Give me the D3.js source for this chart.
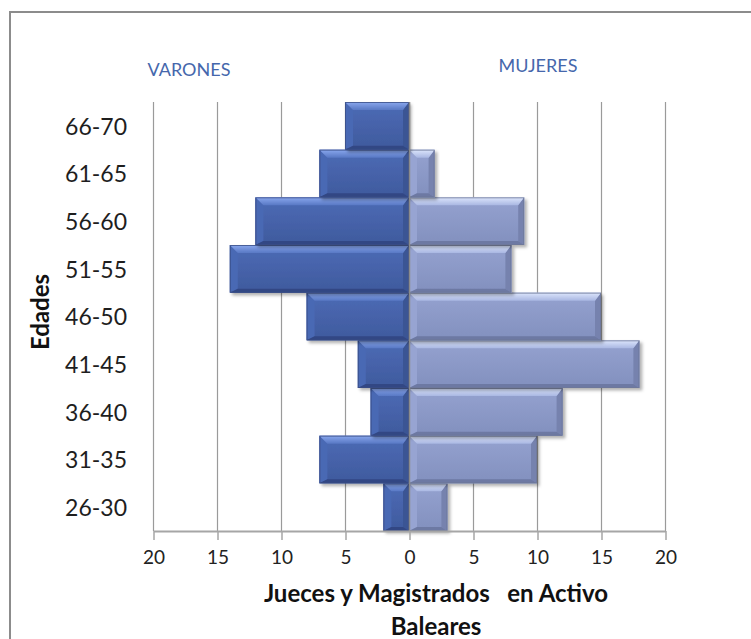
<!DOCTYPE html>
<html>
<head>
<meta charset="utf-8">
<script src="https://cdn.jsdelivr.net/npm/d3@7"></script>
<style>
  html, body { margin: 0; padding: 0; background: #fff; }
  svg { display: block; }
  text { font-family: Lato, "Open Sans", "Liberation Sans", sans-serif; }
</style>
</head>
<body>
<svg id="chart" width="751" height="639"></svg>
<script>
// ---- data ----
const categories = ["26-30", "31-35", "36-40", "41-45", "46-50", "51-55", "56-60", "61-65", "66-70"];
const varones    = [2, 7, 3, 4, 8, 14, 12, 7, 5];
const mujeres    = [3, 10, 12, 18, 15, 8, 9, 2, 0];
const tickValues = [-20, -15, -10, -5, 0, 5, 10, 15, 20];
const tickLabels = ["20", "15", "10", "5", "0", "5", "10", "15", "20"];
const seriesNames = ["VARONES", "MUJERES"];
const axisTitle = ["Jueces y Magistrados   en Activo", "Baleares"];
const yTitle = "Edades";

// ---- layout ----
const svg = d3.select("#chart");
const plot = { left: 153, right: 665, top: 102, bottom: 531 };

const x = d3.scaleLinear().domain([-20, 20]).range([plot.left, plot.right]);
const y = d3.scaleBand().domain(categories.slice().reverse()).range([plot.top, plot.bottom]).padding(0);

// frame (only top and left edges visible)
svg.append("rect").attr("x", 10).attr("y", 12).attr("width", 760).attr("height", 660)
  .attr("fill", "none").attr("stroke", "#8c8c8c").attr("stroke-width", 2);

const defs = svg.append("defs");
const f = defs.append("filter").attr("id", "shadow").attr("x", "-10%").attr("y", "-10%").attr("width", "130%").attr("height", "140%");
f.append("feDropShadow").attr("dx", 2.5).attr("dy", 2.5).attr("stdDeviation", 1.8)
  .attr("flood-color", "#000").attr("flood-opacity", 0.3);

function grad(id, c1, c2) {
  const g = defs.append("linearGradient").attr("id", id).attr("x1", 0).attr("y1", 0).attr("x2", 0).attr("y2", 1);
  g.append("stop").attr("offset", "0%").attr("stop-color", c1);
  g.append("stop").attr("offset", "100%").attr("stop-color", c2);
}
const styles = {
  m: { face: ["#4d6bb6", "#3f5a9d"], top: ["#8aa8ee", "#5878c4"], left: "#4a69b4", right: "#3b5494", bottom: "#314784", stroke: "#3a4c85" },
  f: { face: ["#95a2d0", "#8290be"], top: ["#dde6fc", "#a9b7e2"], left: "#97a4d2", right: "#7682ae", bottom: "#6d79a3", stroke: "#6e7899" }
};
Object.entries(styles).forEach(([k, s]) => {
  grad("face-" + k, s.face[0], s.face[1]);
  grad("top-" + k, s.top[0], s.top[1]);
});

// gridlines
const grid = svg.append("g");
grid.selectAll("line").data(tickValues).join("line")
  .attr("x1", d => x(d) + 0.5).attr("x2", d => x(d) + 0.5)
  .attr("y1", plot.top).attr("y2", plot.bottom)
  .attr("stroke", "#9a9a9a").attr("stroke-width", 1.2);

// bars
const rows = categories.map((c, i) => ({ cat: c, m: varones[i], f: mujeres[i] }));
const bars = [];
rows.forEach(r => {
  if (r.m > 0) bars.push({ k: "m", x0: x(-r.m), x1: x(0), y0: y(r.cat), y1: y(r.cat) + y.bandwidth() });
  if (r.f > 0) bars.push({ k: "f", x0: x(0), x1: x(r.f), y0: y(r.cat), y1: y(r.cat) + y.bandwidth() });
});
const barG = svg.append("g");
bars.forEach(b => {
  const s = styles[b.k];
  const g = barG.append("g").attr("filter", "url(#shadow)");
  const w = b.x1 - b.x0;
  const bt = 8, bb = 4;
  const bl = Math.min(8, w / 2), br = Math.min(6, w / 2);
  const { x0, x1, y0, y1 } = b;
  g.append("rect").attr("x", x0).attr("y", y0).attr("width", w).attr("height", y1 - y0)
    .attr("fill", `url(#face-${b.k})`);
  const poly = (pts, fill) => g.append("polygon").attr("points", pts.map(p => p.join(",")).join(" ")).attr("fill", fill);
  poly([[x0, y0], [x0 + bl, y0 + bt], [x0 + bl, y1 - bb], [x0, y1]], s.left);
  poly([[x1, y0], [x1, y1], [x1 - br, y1 - bb], [x1 - br, y0 + bt]], s.right);
  poly([[x0, y1], [x0 + bl, y1 - bb], [x1 - br, y1 - bb], [x1, y1]], s.bottom);
  poly([[x0, y0], [x1, y0], [x1 - br, y0 + bt], [x0 + bl, y0 + bt]], `url(#top-${b.k})`);
  g.append("rect").attr("x", x0 + 0.5).attr("y", y0 + 0.5).attr("width", w - 1).attr("height", y1 - y0 - 1)
    .attr("fill", "none").attr("stroke", s.stroke).attr("stroke-width", 1).attr("stroke-opacity", 0.8);
});

// vertical axis at zero
svg.append("line").attr("x1", x(0) + 0.5).attr("x2", x(0) + 0.5).attr("y1", plot.top).attr("y2", plot.bottom)
  .attr("stroke", "#8a8a8a").attr("stroke-width", 1.5);

// bottom axis
const xAxis = d3.axisBottom(x).tickValues(tickValues).tickSize(9).tickSizeOuter(0)
  .tickFormat((d, i) => tickLabels[i]);
const ax = svg.append("g").attr("transform", `translate(0.5,${plot.bottom})`).call(xAxis);
ax.select(".domain").attr("stroke", "#a6a6a6").attr("stroke-width", 2);
ax.selectAll(".tick line").attr("stroke", "#a6a6a6").attr("stroke-width", 1.5);
ax.selectAll(".tick text").attr("fill", "#222").attr("font-size", 19).attr("dy", "1.1em")
  .style("font-family", "Lato, 'Open Sans', sans-serif");

// category labels
svg.append("g").selectAll("text").data(categories).join("text")
  .attr("x", 127).attr("y", d => y(d) + y.bandwidth() / 2 + 3)
  .attr("text-anchor", "end").attr("dominant-baseline", "middle")
  .attr("font-size", 23).attr("fill", "#1e1e1e").text(d => d);

// Y title
svg.append("text").attr("transform", "translate(49,312) rotate(-90)")
  .attr("text-anchor", "middle").attr("font-size", 24).attr("font-weight", "bold").attr("fill", "#111")
  .text(yTitle);

// series labels
svg.append("text").attr("x", 189).attr("y", 76).attr("text-anchor", "middle")
  .attr("font-size", 18).attr("fill", "#4567ac").text(seriesNames[0]);
svg.append("text").attr("x", 538).attr("y", 72).attr("text-anchor", "middle")
  .attr("font-size", 18).attr("fill", "#4567ac").text(seriesNames[1]);

// axis title
const t = svg.append("text").attr("text-anchor", "middle").attr("font-weight", "bold").attr("font-size", 24).attr("fill", "#111");
t.append("tspan").attr("x", 436).attr("y", 602).style("white-space", "pre").attr("xml:space", "preserve").text(axisTitle[0]);
t.append("tspan").attr("x", 436).attr("y", 635).text(axisTitle[1]);
</script>
</body>
</html>
